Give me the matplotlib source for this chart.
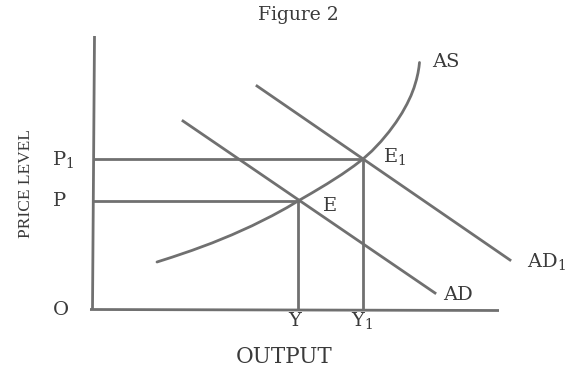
import matplotlib
matplotlib.use("Agg")
import matplotlib.pyplot as plt

# equilibrium values (Y = output, P = price level)
output_Y = 20.6
output_Y1 = 27.1
price_P = 10.8
price_P1 = 15.0

# aggregate supply curve
as_x = [6.5, 8.0, 10.0, 12.0, 14.0, 16.0, 18.0, 19.5, 20.6, 22.0, 23.5, 25.0, 26.2, 27.1,
        28.0, 28.9, 29.7, 30.4, 31.0, 31.5, 31.9, 32.2, 32.45, 32.6, 32.7, 32.75]
as_y = [4.7, 5.18, 5.86, 6.6, 7.42, 8.32, 9.32, 10.14, 10.8, 11.61, 12.51, 13.47, 14.31, 15.0,
        15.81, 16.76, 17.72, 18.67, 19.6, 20.5, 21.34, 22.12, 22.95, 23.6, 24.2, 24.65]

# aggregate demand lines (end points)
ad_x = [9.1, 34.3]
ad_y = [18.8, 1.6]
ad1_x = [16.5, 41.8]
ad1_y = [22.3, 4.9]

# axis extents
x_axis_end = 40.7
y_axis_end = 27.3

line_col = "#707070"
text_col = "#3a3a3a"
serif = "DejaVu Serif"

fig = plt.figure(figsize=(5.78, 3.74), dpi=100)
ax = fig.add_axes([0, 0, 1, 1])
ax.set_xlim(-9.2, 48.6)
ax.set_ylim(-6.5, 30.9)
ax.axis("off")

lw = 2.0
# axes
ax.plot([-0.2, x_axis_end], [-0.05, -0.15], color=line_col, lw=lw, solid_capstyle="butt")
ax.plot([0.05, 0.25], [0, y_axis_end], color=line_col, lw=lw, solid_capstyle="butt")

# guide lines to equilibrium points
ax.plot([0.1, output_Y], [price_P, price_P], color=line_col, lw=lw)
ax.plot([0.15, output_Y1], [price_P1, price_P1], color=line_col, lw=lw)
ax.plot([output_Y, output_Y], [0, price_P], color=line_col, lw=lw)
ax.plot([output_Y1, output_Y1], [0, price_P1], color=line_col, lw=lw)

# curves
ax.plot(as_x, as_y, color=line_col, lw=lw, solid_joinstyle="round", solid_capstyle="round")
ax.plot(ad_x, ad_y, color=line_col, lw=lw)
ax.plot(ad1_x, ad1_y, color=line_col, lw=lw)

kw = dict(color=text_col, family=serif, va="center")
ax.text(34.0, 24.7, "AS", fontsize=14, ha="left", **kw)
ax.text(29.1, 15.2, "E$_\\mathregular{1}$", fontsize=14, ha="left", **kw)
ax.text(23.1, 10.3, "E", fontsize=14, ha="left", **kw)
ax.text(35.1, 1.4, "AD", fontsize=14, ha="left", **kw)
ax.text(43.5, 4.7, "AD$_\\mathregular{1}$", fontsize=14, ha="left", **kw)
ax.text(-4.0, 14.9, "P$_\\mathregular{1}$", fontsize=14, ha="left", **kw)
ax.text(-3.9, 10.8, "P", fontsize=14, ha="left", **kw)
ax.text(-3.1, -0.1, "O", fontsize=14, ha="center", **kw)
ax.text(output_Y - 0.3, -1.2, "Y", fontsize=14, ha="center", **kw)
ax.text(output_Y1 - 0.1, -1.2, "Y$_\\mathregular{1}$", fontsize=14, ha="center", **kw)
ax.text(19.2, -4.8, "OUTPUT", fontsize=15.5, ha="center", **kw)
ax.text(-6.6, 12.5, "PRICE LEVEL", fontsize=12.5, ha="center", rotation=90,
        color=text_col, family="Liberation Serif", va="center")

fig.text(0.516, 0.96, "Figure 2", fontsize=13.5, ha="center", va="center",
         color=text_col, family=serif)

fig.savefig("out.png", dpi=100)
